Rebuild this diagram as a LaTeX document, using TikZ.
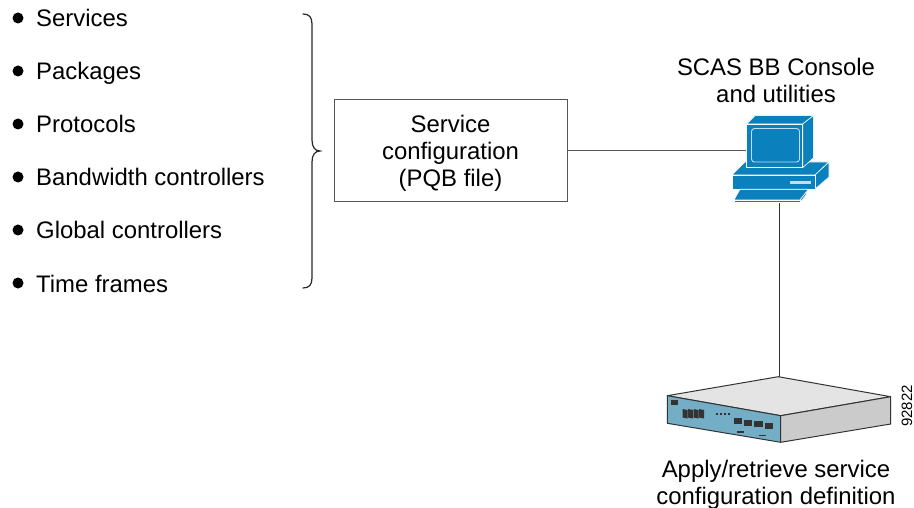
\documentclass[tikz,border=0pt]{standalone}
\usepackage{fontspec}
\setmainfont{Liberation Sans}
\definecolor{pcblue}{HTML}{0A80BC}
\definecolor{pcline}{HTML}{BFE0F0}
\definecolor{linegray}{HTML}{555555}
\definecolor{rfront}{HTML}{74AEC6}
\definecolor{rtop}{HTML}{E4E4E4}
\definecolor{rside}{HTML}{CBCBCB}
\definecolor{portc}{HTML}{333333}
\tikzset{
  lbl/.style={font=\fontsize{23.9}{27}\selectfont,align=center,inner sep=0pt},
  itemlbl/.style={font=\fontsize{23.9}{27}\selectfont,anchor=base west,inner sep=0pt},
  bulletdot/.style={circle,fill=black,inner sep=0pt,minimum size=11pt},
  pc/.style={fill=pcblue,draw=white,line width=.6pt,line join=round},
  rt/.style={draw=black!80,line width=1pt,line join=round},
  conn/.style={draw=linegray,line width=1pt},
  port/.style={fill=portc,draw=none}
}
\begin{document}
\begin{tikzpicture}[x=1pt,y=-1pt]
\useasboundingbox (0,0) rectangle (914,508);
% list
\foreach \n/\y/\t in {a/18/Services,b/71/Packages,c/124/Protocols,d/177/Bandwidth controllers,e/230/Global controllers,f/283/Time frames}{
  \node[bulletdot] (dot\n) at (18,\y) {};
  \node[itemlbl] (item\n) at (36,\y+9) {\t};
}
% brace
\draw[black!85,line width=1.2pt,line cap=round]
  (303,14) .. controls (309,14) and (312,17) .. (312,24) -- (312,140)
  .. controls (312,147) and (315,151) .. (320,151)
  .. controls (315,151) and (312,155) .. (312,162) -- (312,278)
  .. controls (312,285) and (309,288) .. (303,288);
% box
\node[draw=linegray,line width=1pt,minimum width=233pt,minimum height=102pt,inner sep=0pt] (cfg) at (450.5,151) {};
\node[lbl] (cfgtext) at (450.5,153) {Service\\configuration\\(PQB file)};
% anchors of devices
\coordinate (pcin) at (746,151);
\coordinate (pcout) at (779,203);
\coordinate (rtin) at (779,377);
\draw[conn] (cfg.east |- pcin) -- (pcin);
\draw[black!80,line width=1pt] (pcout) -- (rtin);
% computer
\fill[pc] (732,175) -- (745,162) -- (829,162) -- (815,175) -- cycle;
\fill[pc] (815,175) -- (829,162) -- (829,177) -- (815,189) -- cycle;
\fill[pc] (732,175) rectangle (815,189);
\fill[pc] (746.7,124) -- (755,115.7) -- (813.3,115.7) -- (802.7,124) -- cycle;
\fill[pc] (802.7,124) -- (813.3,115.7) -- (813.3,158) -- (802.7,167.7) -- cycle;
\fill[pc] (746.7,124) rectangle (802.7,167.7);
\draw[pcline,line width=.9pt,rounded corners=3pt] (751.5,128.5) rectangle (799.5,162);
\fill[pcline] (789.5,181.5) rectangle (811,184);
\fill[pc] (740,189.3) -- (808.5,189.3) -- (800,200) -- (734,200) -- cycle;
\fill[pc] (800,200) -- (808.5,189.3) -- (806,195) -- (800,202.7) -- cycle;
\fill[pc] (734,200) rectangle (800,202.7);
% router
\filldraw[rt,fill=rtop] (667.3,395.7) -- (778.3,376.7) -- (890.7,396.7) -- (780.7,415.7) -- cycle;
\filldraw[rt,fill=rfront] (667.3,395.7) -- (780.7,415.7) -- (780.7,442.3) -- (667.3,423.3) -- cycle;
\filldraw[rt,fill=rside] (780.7,415.7) -- (890.7,396.7) -- (890.7,424) -- (780.7,442.3) -- cycle;
% router details
\fill[port] (671,400) rectangle (678,405);
\foreach \x in {682.5,688,693.5,699}{\fill[port] (\x,409) -- (\x+5,410) -- (\x+5,418.5) -- (\x,417.5) -- cycle;}
\foreach \x in {717,721,725,729}{\fill[port] (\x-1,412.5) rectangle (\x+1.2,415);}
\foreach \x/\y in {733.5/418,743.5/420,754/421,764.5/423}{\fill[port] (\x,\y) rectangle (\x+8.5,\y+6);}
\fill[port] (737,431) rectangle (744,432.5);
\fill[port] (759,434.5) rectangle (766,436);
% labels
\node[lbl] (top) at (776,80.5) {SCAS BB Console\\and utilities};
\node[lbl] (bot) at (776,484.5) {Apply/retrieve service\\configuration definition};
\node[font=\fontsize{15}{16}\selectfont,rotate=90,inner sep=0pt] (num) at (907,406) {92822};
\end{tikzpicture}
\end{document}
